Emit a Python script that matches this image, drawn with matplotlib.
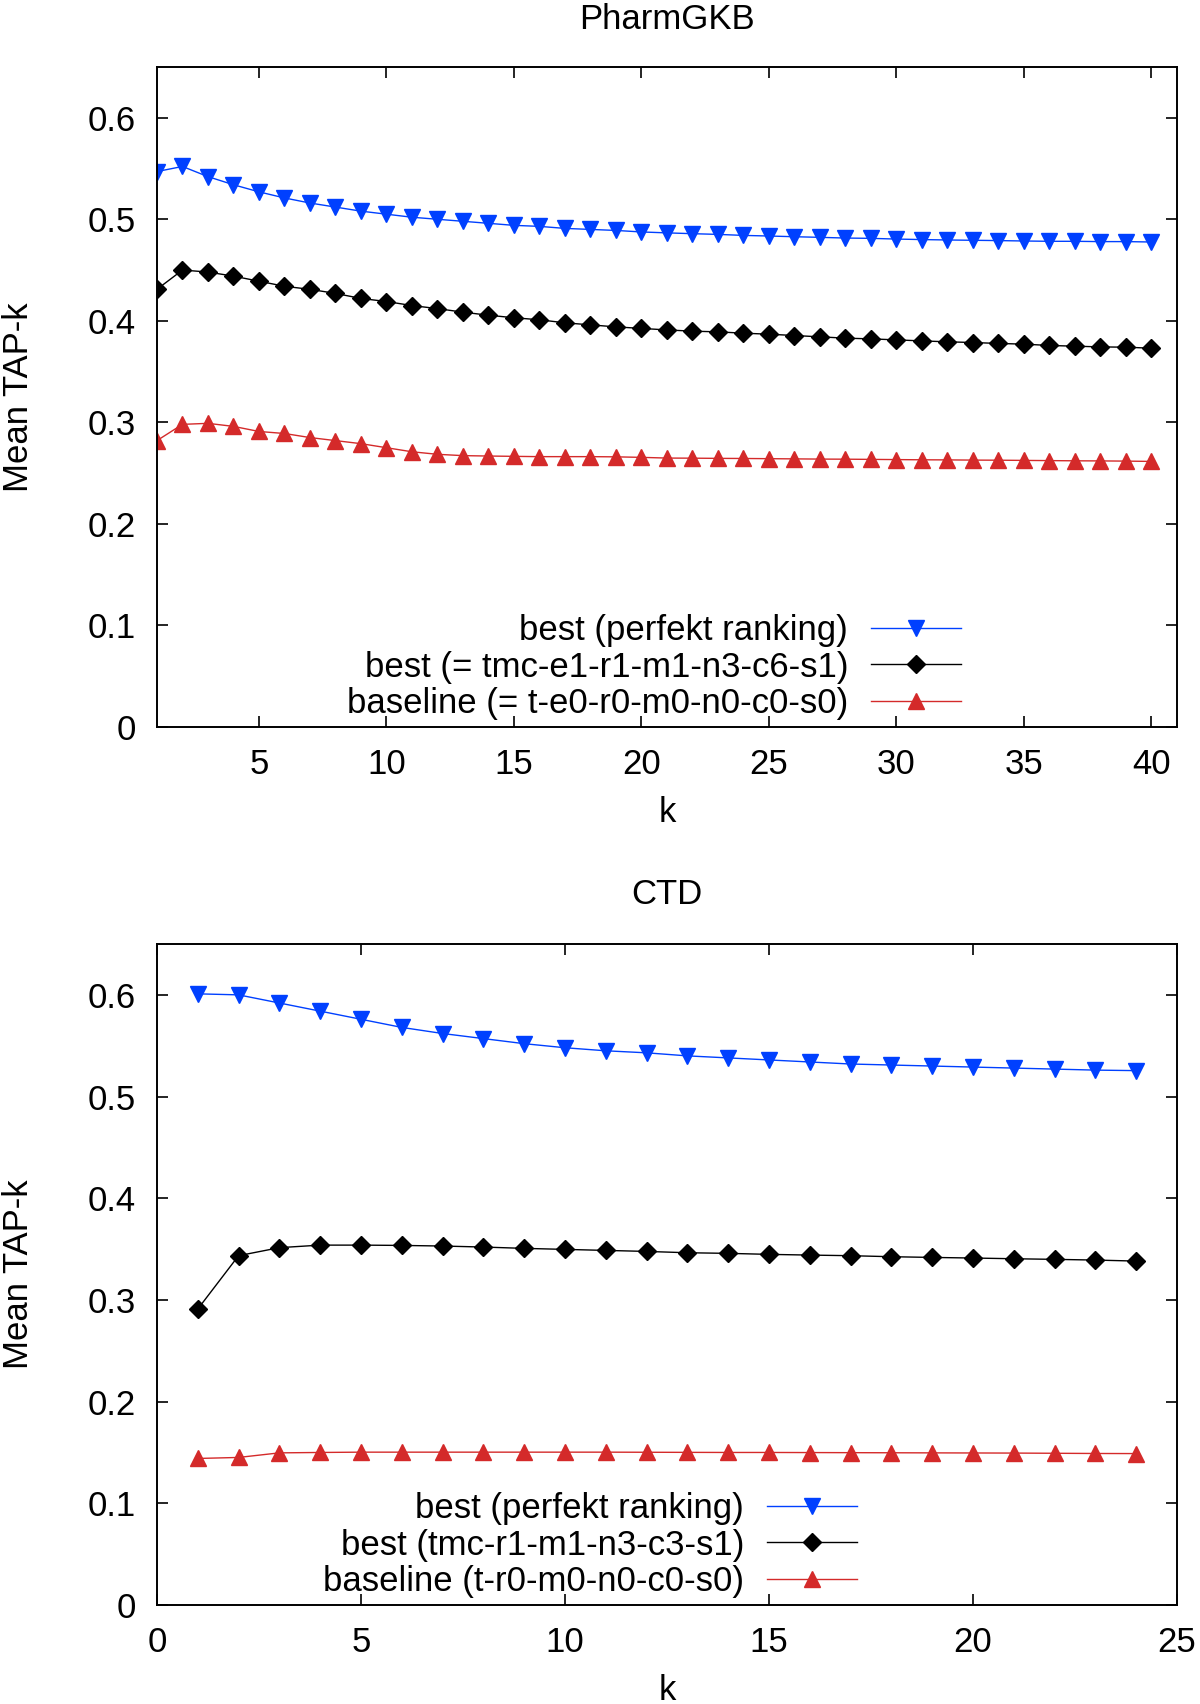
import matplotlib
matplotlib.use("Agg")
import matplotlib.pyplot as plt
import numpy as np

plt.rcParams['font.family'] = ['Liberation Sans', 'DejaVu Sans']

# PharmGKB data, k = 1..40
k_pharm = np.arange(1, 41)
pharm_perfect = [0.547, 0.552, 0.542, 0.534, 0.527, 0.521, 0.516, 0.512, 0.508, 0.505,
                 0.502, 0.500, 0.498, 0.496, 0.494, 0.493, 0.491, 0.490, 0.489, 0.4875,
                 0.4866, 0.4858, 0.4851, 0.4841, 0.4835, 0.4828, 0.4822, 0.4815, 0.4812, 0.4805,
                 0.4800, 0.4796, 0.4793, 0.4790, 0.4786, 0.4783, 0.4783, 0.4780, 0.4780, 0.4776]
pharm_best = [0.431, 0.450, 0.448, 0.444, 0.439, 0.434, 0.431, 0.427, 0.422, 0.419,
              0.415, 0.412, 0.4085, 0.4055, 0.403, 0.401, 0.398, 0.396, 0.394, 0.3925,
              0.391, 0.3898, 0.3891, 0.3878, 0.3868, 0.3855, 0.3842, 0.3829, 0.3822, 0.3812,
              0.3802, 0.3793, 0.3786, 0.3777, 0.3770, 0.3757, 0.3750, 0.3743, 0.3740, 0.3730]
pharm_base = [0.282, 0.298, 0.299, 0.296, 0.291, 0.289, 0.285, 0.282, 0.279, 0.275,
              0.271, 0.2685, 0.2672, 0.2668, 0.2665, 0.2662, 0.2662, 0.2662, 0.2660, 0.2655,
              0.2648, 0.2647, 0.2645, 0.2644, 0.2642, 0.2640, 0.2638, 0.2637, 0.2635, 0.2633,
              0.2631, 0.2630, 0.2628, 0.2627, 0.2625, 0.2623, 0.2621, 0.2620, 0.2618, 0.2615]

# CTD data, k = 1..24
k_ctd = np.arange(1, 25)
ctd_perfect = [0.601, 0.600, 0.592, 0.584, 0.576, 0.568, 0.562, 0.557, 0.552, 0.548,
               0.545, 0.543, 0.540, 0.538, 0.536, 0.534, 0.532, 0.531, 0.530, 0.529,
               0.528, 0.527, 0.526, 0.5255]
ctd_best = [0.291, 0.3435, 0.3514, 0.3539, 0.3539, 0.3536, 0.353, 0.352, 0.3507, 0.3497,
            0.3487, 0.3477, 0.3464, 0.3458, 0.3448, 0.3441, 0.3435, 0.3425, 0.3418, 0.3412,
            0.3405, 0.3399, 0.3392, 0.3382]
ctd_base = [0.1441, 0.1451, 0.1496, 0.1500, 0.1503, 0.1503, 0.1503, 0.1503, 0.1503, 0.1503,
            0.1503, 0.1502, 0.1501, 0.1500, 0.1500, 0.1499, 0.1498, 0.1497, 0.1496, 0.1495,
            0.1494, 0.1492, 0.1490, 0.1489]

blue = '#0040ff'
red = '#d42a2a'
fs = 25

fig = plt.figure(figsize=(12, 17.04), dpi=100)
ax1 = fig.add_axes([0.1308, 0.5734, 0.8500, 0.3873])
ax2 = fig.add_axes([0.1308, 0.0581, 0.8500, 0.3879])


def style(ax, xlim, xticks):
    ax.set_xlim(*xlim)
    ax.set_ylim(0, 0.65)
    ax.set_xticks(xticks)
    ax.set_yticks(np.arange(0, 0.61, 0.1))
    ax.set_yticklabels(['0', '0.1', '0.2', '0.3', '0.4', '0.5', '0.6'])
    ax.tick_params(direction='in', length=8, width=1.2, top=True, right=True,
                   labelsize=fs)
    ax.tick_params(axis='x', pad=15)
    ax.tick_params(axis='y', pad=15)
    for s in ax.spines.values():
        s.set_linewidth(1.4)
    ax.set_ylabel('Mean TAP-k', fontsize=fs, labelpad=38)
    ax.set_xlabel('k', fontsize=fs, labelpad=11)


def draw(ax, k, perf, best, base, labels):
    ax.plot(k, perf, color=blue, lw=1, marker='v', ms=12, mec=blue, label=labels[0])
    ax.plot(k, best, color='black', lw=1, marker='D', ms=9, label=labels[1])
    ax.plot(k, base, color=red, lw=1, marker='^', ms=12, mec=red, label=labels[2])


draw(ax1, k_pharm, pharm_perfect, pharm_best, pharm_base,
     ['best (perfekt ranking)', 'best (= tmc-e1-r1-m1-n3-c6-s1)',
      'baseline (= t-e0-r0-m0-n0-c0-s0)'])
style(ax1, (1, 41), [5, 10, 15, 20, 25, 30, 35, 40])
ax1.set_title('PharmGKB', fontsize=fs, pad=27)
ax1.legend(loc='lower right', bbox_to_anchor=(0.795, 0.0), frameon=False,
           markerfirst=False, fontsize=fs, handlelength=2.6, handletextpad=0.65,
           labelspacing=0.1, borderpad=0.2, borderaxespad=0)

draw(ax2, k_ctd, ctd_perfect, ctd_best, ctd_base,
     ['best (perfekt ranking)', 'best (tmc-r1-m1-n3-c3-s1)',
      'baseline (t-r0-m0-n0-c0-s0)'])
style(ax2, (0, 25), [0, 5, 10, 15, 20, 25])
ax2.set_title('CTD', fontsize=fs, pad=29)
ax2.legend(loc='lower right', bbox_to_anchor=(0.693, 0.0), frameon=False,
           markerfirst=False, fontsize=fs, handlelength=2.6, handletextpad=0.65,
           labelspacing=0.1, borderpad=0.2, borderaxespad=0)

fig.savefig('out.png', dpi=100)
